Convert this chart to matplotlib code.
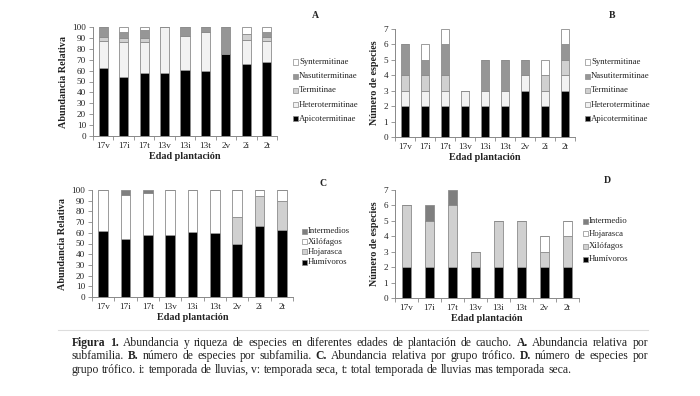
import matplotlib
matplotlib.use("Agg")
import matplotlib.pyplot as plt
import numpy as np

plt.rcParams['font.family'] = ['Liberation Serif', 'DejaVu Serif']

# ---------------- data ----------------
cats9 = ["17v", "17i", "17t", "13v", "13i", "13t", "2v", "2i", "2t"]
cats8 = ["17v", "17i", "17t", "13v", "13i", "13t", "2v", "2t"]

subfam = ["Apicotermitinae", "Heterotermitinae", "Termitinae", "Nasutitermitinae", "Syntermitinae"]
# Panel A: relative abundance by subfamily
a_apico = [62, 54, 58, 58, 61, 59.5, 75, 66.5, 68]
a_hetero = [25, 32, 28, 42, 31, 36, 0, 21.5, 19]
a_termi = [4, 4, 4, 0, 0, 0, 0, 6, 4]
a_nasuti = [9, 5, 7, 0, 8, 4.5, 25, 0, 4]
a_synter = [0, 5, 3, 0, 0, 0, 0, 6, 5]

# Panel B: number of species by subfamily
b_apico = [2, 2, 2, 2, 2, 2, 3, 2, 3]
b_hetero = [1, 1, 1, 1, 1, 1, 1, 1, 1]
b_termi = [1, 1, 1, 0, 0, 0, 0, 1, 1]
b_nasuti = [2, 1, 2, 0, 2, 2, 1, 0, 1]
b_synter = [0, 1, 1, 0, 0, 0, 0, 1, 1]

# Panel C: relative abundance by trophic group
c_groups = ["Humívoros", "Hojarasca", "Xilófagos", "Intermedios"]
c_humi = [62, 54, 58, 58, 61, 59.5, 50, 66, 63]
c_hoja = [0, 0, 0, 0, 0, 0, 25, 28, 27]
c_xilo = [38, 41, 39, 42, 39, 40.5, 25, 6, 10]
c_inter = [0, 5, 3, 0, 0, 0, 0, 0, 0]

# Panel D: number of species by trophic group
d_groups = ["Humívoros", "Xilófagos", "Hojarasca", "Intermedio"]
d_humi = [2, 2, 2, 2, 2, 2, 2, 2]
d_xilo = [4, 3, 4, 1, 3, 3, 1, 2]
d_hoja = [0, 0, 0, 0, 0, 0, 1, 1]
d_inter = [0, 1, 1, 0, 0, 0, 0, 0]

# caption segments: (text, bold)
cap_lines = [
    [("Figura 1.", True), ("Abundancia y riqueza de especies en diferentes edades de plantación de caucho.", False),
     ("A.", True), ("Abundancia relativa por", False)],
    [("subfamilia.", False), ("B.", True), ("número de especies por subfamilia.", False), ("C.", True),
     ("Abundancia relativa por grupo trófico.", False), ("D.", True), ("número de especies por", False)],
    [("grupo trófico. i: temporada de lluvias, v: temporada seca, t: total temporada de lluvias mas temporada seca.", False)],
]

# ---------------- style ----------------
BLACK = "#000000"
VLIGHT = "#f2f2f2"
LIGHT = "#d0d0d0"
GRAY = "#969696"
DGRAY = "#7f7f7f"
WHITE = "#ffffff"
EDGE = "#8c8c8c"
TXT = "#222222"

W, H = 700, 396
fig = plt.figure(figsize=(W / 100, H / 100), dpi=100)


def px_axes(l, t, r, b):
    return fig.add_axes([l / W, 1 - b / H, (r - l) / W, (b - t) / H])


def draw(ax, cats, series, colors, labels, ymax, yticks, ylabel, letter, width,
         leg_x, leg_y, leg_dy, letter_xy):
    x = np.arange(len(cats))
    bottom = np.zeros(len(cats))
    for vals, col in zip(series, colors):
        vals = np.array(vals, dtype=float)
        ax.bar(x, vals, width, bottom=bottom, color=col, edgecolor=EDGE, linewidth=0.6)
        bottom += vals
    ax.set_xlim(-0.5, len(cats) - 0.5)
    ax.set_ylim(0, ymax)
    ax.set_yticks(yticks)
    ax.set_yticklabels([str(v) for v in yticks], fontsize=6.6, color=TXT)
    ax.set_xticks(x)
    ax.set_xticklabels(cats, fontsize=6.6, color=TXT)
    ax.set_xticks(np.arange(-0.5, len(cats)), minor=True)
    ax.tick_params(axis='x', which='major', length=0, pad=4)
    ax.tick_params(axis='x', which='minor', length=3, color="#888888", width=0.6)
    ax.tick_params(axis='y', length=3, color="#888888", width=0.6, pad=2)
    for s in ['top', 'right']:
        ax.spines[s].set_visible(False)
    for s in ['left', 'bottom']:
        ax.spines[s].set_color("#888888")
        ax.spines[s].set_linewidth(0.7)
    ax.set_xlabel("Edad plantación", fontsize=7.3, fontweight='bold', color=TXT, labelpad=2)
    ax.set_ylabel(ylabel, fontsize=7.3, fontweight='bold', color=TXT, labelpad=3)
    for i, (col, lab) in enumerate(zip(colors[::-1], labels[::-1])):
        yy = leg_y + i * leg_dy
        fig.patches.append(plt.Rectangle((leg_x / W, 1 - (yy + 2.5) / H), 5 / W, 5 / H,
                                         transform=fig.transFigure, facecolor=col,
                                         edgecolor=EDGE, linewidth=0.5))
        fig.text((leg_x + 6) / W, 1 - yy / H, lab, fontsize=6.3, color=TXT,
                 va='center', ha='left')
    fig.text(letter_xy[0] / W, 1 - letter_xy[1] / H, letter, fontsize=7,
             fontweight='bold', color=TXT, ha='center', va='center')


sub_colors = [BLACK, VLIGHT, LIGHT, GRAY, WHITE]

axA = px_axes(93, 27, 277, 136)
draw(axA, cats9, [a_apico, a_hetero, a_termi, a_nasuti, a_synter], sub_colors, subfam,
     100, list(range(0, 101, 10)), "Abundancia Relativa", "A", 0.45,
     293, 62, 14.2, (315, 15))

axB = px_axes(395, 29, 575, 137)
draw(axB, cats9, [b_apico, b_hetero, b_termi, b_nasuti, b_synter], sub_colors, subfam,
     7, list(range(0, 8)), "Número de especies", "B", 0.43,
     585, 62, 14.2, (612, 15))

axC = px_axes(92, 190, 293, 297)
draw(axC, cats9, [c_humi, c_hoja, c_xilo, c_inter], [BLACK, LIGHT, WHITE, DGRAY], c_groups,
     100, list(range(0, 101, 10)), "Abundancia Relativa", "C", 0.42,
     302, 231, 10.5, (323, 183))

axD = px_axes(395, 190, 579, 298)
draw(axD, cats8, [d_humi, d_xilo, d_hoja, d_inter], [BLACK, LIGHT, WHITE, DGRAY], d_groups,
     7, list(range(0, 8)), "Número de especies", "D", 0.4,
     583, 221, 12.7, (607, 180))

# separator line
fig.add_artist(plt.Line2D([58 / W, 648 / W], [1 - 330 / H, 1 - 330 / H],
                          transform=fig.transFigure, color="#dddddd", linewidth=0.8))

# caption, placed word by word, justified lines 1-2
renderer = fig.canvas.get_renderer()
x0, x1 = 72, 648
FS = 8.35
probe1 = fig.text(0, 0, "a b", fontsize=FS)
probe2 = fig.text(0, 0, "ab", fontsize=FS)
space_w = probe1.get_window_extent(renderer).width - probe2.get_window_extent(renderer).width
probe1.remove()
probe2.remove()
for i, segs in enumerate(cap_lines):
    y = 1 - (343 + i * 13.3) / H
    words = []
    for s, b in segs:
        for wtxt in s.split(" "):
            t = fig.text(0, y, wtxt, fontsize=FS, color=TXT, ha='left', va='center',
                         fontweight='bold' if b else 'normal')
            words.append(t)
    widths = [t.get_window_extent(renderer).width for t in words]
    gap = space_w
    if i < 2 and len(words) > 1:
        gap = ((x1 - x0) - sum(widths)) / (len(words) - 1)
    x = x0
    for t, w in zip(words, widths):
        t.set_x(x / W)
        x += w + gap

fig.savefig("out.png", dpi=100)
